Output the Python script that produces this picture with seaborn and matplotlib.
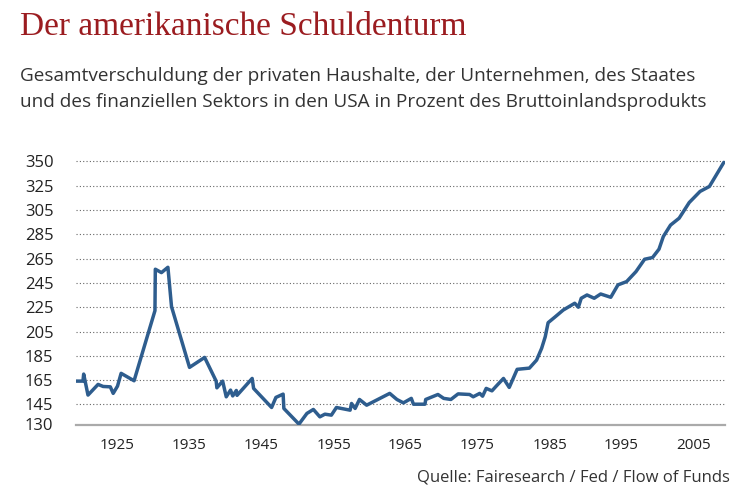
import pandas as pd
import matplotlib.pyplot as plt
import seaborn as sns

# Gesamtverschuldung in % des BIP
years = [1919.2, 1920.2, 1920.3, 1920.9, 1922.3, 1923.0, 1924.0, 1924.4, 1925.0, 1925.5,
         1927.3, 1930.2, 1930.25, 1931.1, 1932.0, 1932.5, 1935.0, 1937.1, 1938.7, 1938.8,
         1939.6, 1940.1, 1940.7, 1941.0, 1941.5, 1941.6, 1943.7, 1943.9, 1946.4, 1947.0,
         1948.0, 1948.1, 1950.2, 1951.3, 1952.2, 1953.1, 1953.8, 1954.7, 1955.4, 1957.3,
         1957.5, 1958.0, 1958.6, 1959.6, 1962.8, 1963.8, 1964.7, 1965.8, 1966.1, 1967.7,
         1967.8, 1969.5, 1970.3, 1971.3, 1972.3, 1973.9, 1974.4, 1975.3, 1975.7, 1976.2,
         1977.0, 1977.6, 1978.6, 1979.4, 1980.5, 1982.2, 1983.2, 1983.9, 1984.4, 1984.8,
         1985.8, 1986.9, 1988.5, 1989.0, 1989.4, 1990.2, 1991.2, 1992.1, 1993.5, 1994.5,
         1995.7, 1997.0, 1998.2, 1999.3, 2000.2, 2000.8, 2001.8, 2003.0, 2004.4, 2005.9,
         2007.2, 2009.2]
debt = [169.2, 169.2, 175.0, 157.7, 166.5, 164.8, 164.5, 159.1, 165.1, 175.6,
        169.5, 227.2, 261.3, 258.5, 262.9, 230.5, 180.5, 188.7, 169.2, 163.7,
        169.2, 156.3, 161.8, 157.0, 161.5, 157.5, 171.4, 163.2, 147.5, 155.8,
        158.5, 146.7, 133.8, 142.6, 145.9, 139.8, 142.0, 141.2, 147.5, 145.3,
        150.8, 146.7, 154.1, 149.4, 159.1, 154.1, 151.3, 155.0, 150.2, 150.2,
        154.1, 158.2, 155.0, 154.1, 158.7, 158.2, 156.3, 159.1, 156.8, 163.2,
        161.2, 165.1, 171.4, 164.0, 178.9, 179.9, 186.5, 196.2, 205.7, 217.3,
        222.2, 227.7, 233.3, 230.0, 237.4, 240.1, 237.4, 240.9, 238.2, 248.4,
        251.1, 259.3, 269.5, 270.9, 277.8, 288.2, 297.6, 303.3, 316.2, 325.3,
        329.4, 349.2]

x_ticks = [1925, 1935, 1945, 1955, 1965, 1975, 1985, 1995, 2005]
y_ticks = [133.5, 150, 170, 190, 210, 230, 250, 270, 290, 310, 330, 350]
y_labels = ['130', '145', '165', '185', '205', '225', '245', '265', '285', '305', '325', '350']

df = pd.DataFrame({'Jahr': years, 'Schulden': debt})

sns.set_style('white')
plt.rcParams['font.family'] = ['Open Sans', 'DejaVu Sans']

fig = plt.figure(figsize=(7.5, 5), dpi=100)
ax = fig.add_axes([0.101, 0.151, 0.866, 0.531])

for t in y_ticks[1:]:
    ax.axhline(t, color='#666666', linestyle=(0, (1, 2)), linewidth=0.8, zorder=1)

sns.lineplot(data=df, x='Jahr', y='Schulden', sort=False, estimator=None,
             color='#2e5d8e', linewidth=2.5, ax=ax, zorder=3)

ax.set_xlim(1919.2, 2009.4)
ax.set_ylim(133.5, 352)
ax.set_xticks(x_ticks)
ax.set_yticks(y_ticks, labels=y_labels)
ax.tick_params(axis='x', length=0, labelsize=11, pad=10, colors='#222222')
ax.tick_params(axis='y', length=0, labelsize=12, pad=16, colors='#222222')
ax.set_xlabel('')
ax.set_ylabel('')
for s in ['top', 'right', 'left']:
    ax.spines[s].set_visible(False)
ax.spines['bottom'].set_color('#aaaaaa')
ax.spines['bottom'].set_linewidth(1.6)

fig.text(0.027, 0.946, 'Der amerikanische Schuldenturm', fontsize=24,
         family=['Liberation Serif', 'DejaVu Serif'], color='#9b1c20', va='center')
fig.text(0.027, 0.848, 'Gesamtverschuldung der privaten Haushalte, der Unternehmen, des Staates',
         fontsize=13.7, color='#333333', va='center')
fig.text(0.027, 0.796, 'und des finanziellen Sektors in den USA in Prozent des Bruttoinlandsprodukts',
         fontsize=13.7, color='#333333', va='center')
fig.text(0.973, 0.044, 'Quelle: Fairesearch / Fed / Flow of Funds', fontsize=12,
         color='#333333', ha='right', va='center')

fig.savefig('out.png', dpi=100)
